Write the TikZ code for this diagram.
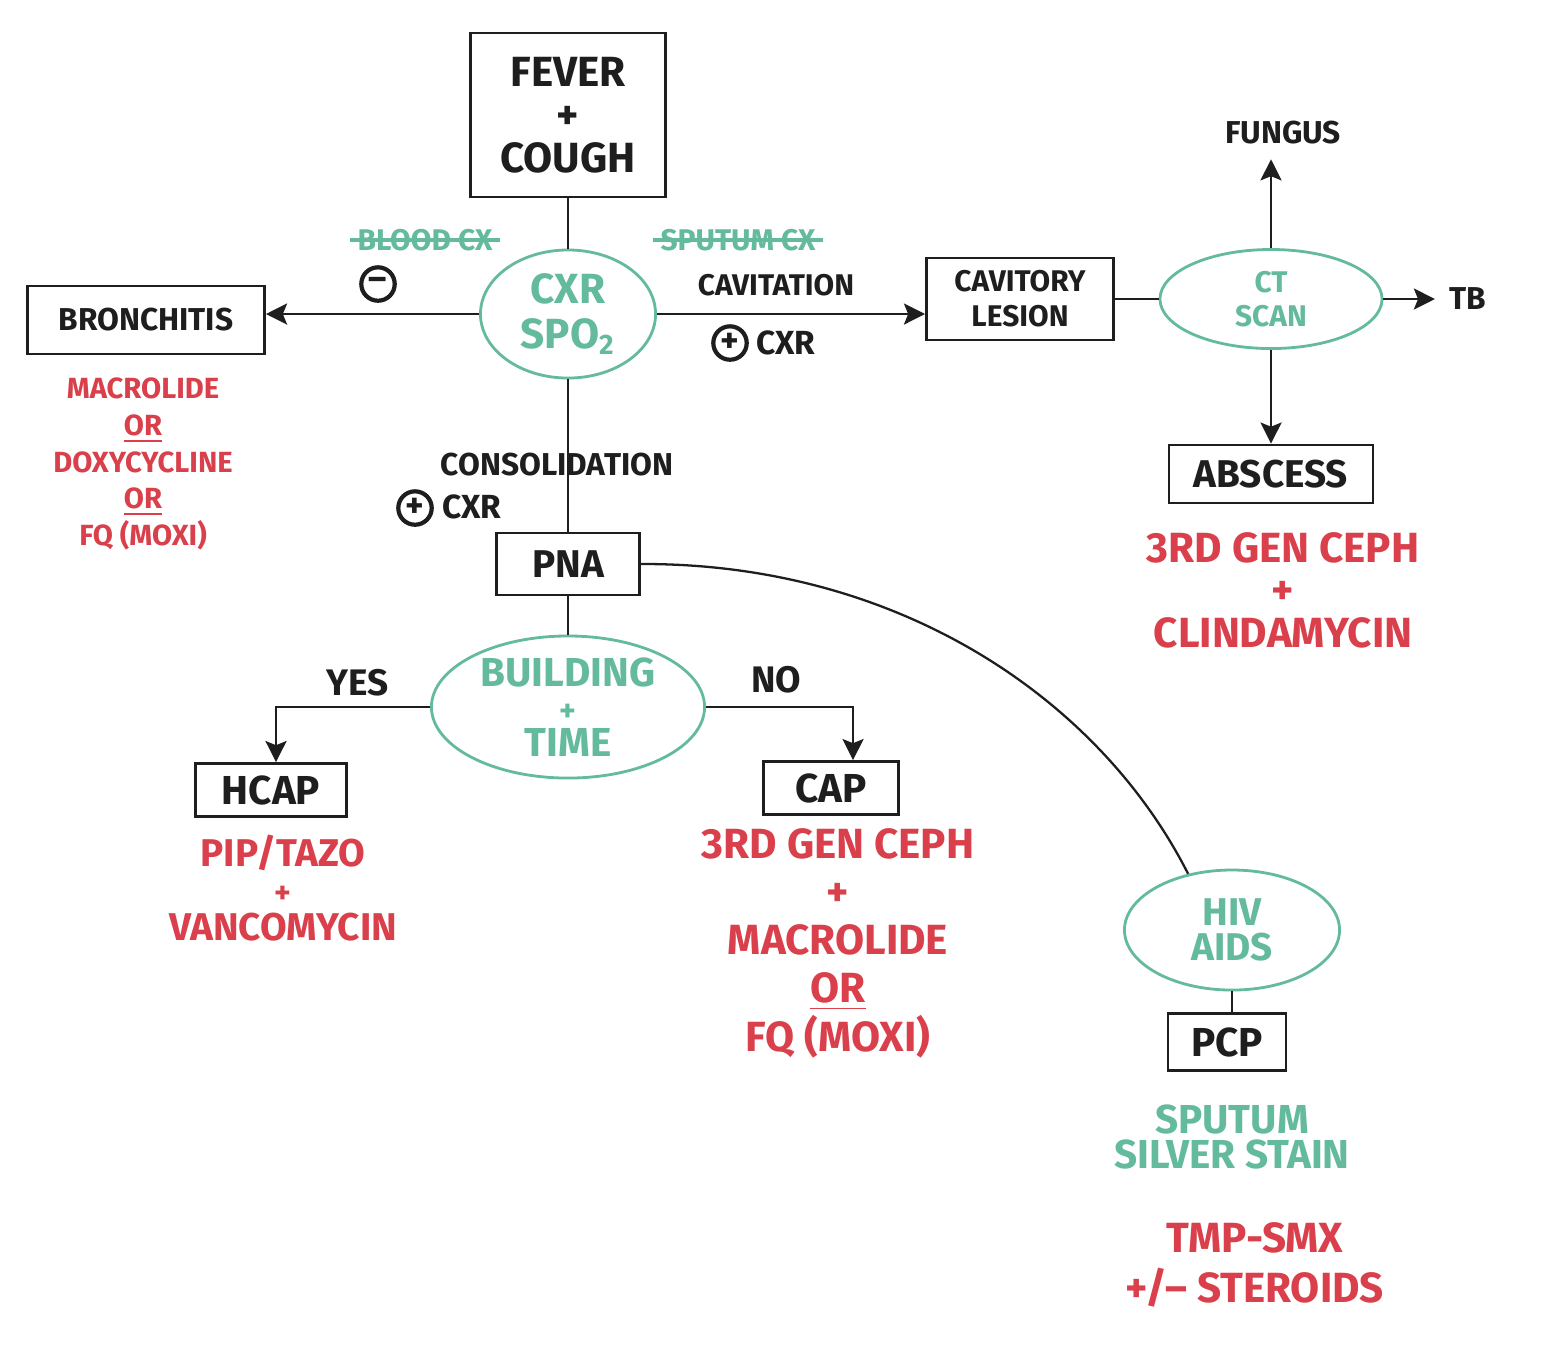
\documentclass[tikz,border=0pt]{standalone}
\usepackage{fontspec}
\setmainfont{Fira Sans}
\usetikzlibrary{arrows.meta,shapes.geometric}
\definecolor{mint}{RGB}{100,186,156}
\definecolor{rxred}{RGB}{217,64,75}
\definecolor{ink}{RGB}{30,30,30}
\newcommand{\fsz}[2]{\fontsize{#1}{#2}\selectfont\bfseries}
\begin{document}
\begin{tikzpicture}[x=0.01cm,y=-0.01cm,
  box/.style={draw=ink,line width=0.8pt,rectangle,inner sep=0pt,text=ink,align=center},
  oval/.style={draw=mint,line width=0.8pt,ellipse,inner sep=0pt,text=mint,align=center},
  note/.style={text=ink,inner sep=1pt},
  rx/.style={text=rxred,align=center,inner sep=0pt},
  link/.style={draw=ink,line width=0.65pt},
  arr/.style={link,-{Stealth[length=6pt,width=6pt,inset=1.2pt]}},
  sign/.style={circle,draw=ink,line width=1.2pt,minimum size=9.5pt,inner sep=0pt,text=ink,font=\fsz{10}{10}},
  struck/.style={text=mint,inner sep=0pt,font=\fsz{8.5}{9}}]
\useasboundingbox (0,0) rectangle (1552,1356);
% main column
\node[box,minimum width=1.95cm,minimum height=1.64cm,font=\fsz{12}{12.2}](fever)at(568,115){FEVER\\+\\COUGH};
\node[oval,minimum width=1.75cm,minimum height=1.28cm,font=\fsz{12}{12.8}](cxr)at(568,314){CXR\\SPO\textsubscript{2}};
\node[box,minimum width=1.43cm,minimum height=0.62cm,font=\fsz{11}{12}](pna)at(568,564){PNA};
\node[oval,minimum width=2.73cm,minimum height=1.42cm,font=\fsz{11.5}{10}](bldg)at(568,707){BUILDING\\{\fsz{9}{10}+}\\TIME};
% left branch
\node[box,minimum width=2.37cm,minimum height=0.68cm,font=\fsz{9}{10}](bron)at(146,320){BRONCHITIS};
\node[rx,font=\fsz{8.3}{10.4}](bronrx)at(143,464){MACROLIDE\\\underline{OR}\\DOXYCYCLINE\\\underline{OR}\\FQ (MOXI)};
\node[struck](blood)at(425,240){BLOOD CX};
\node[sign](neg)at(378,284){--};
% right branch
\node[struck](sput)at(738,240){SPUTUM CX};
\node[note,font=\fsz{8.5}{9}](cavit)at(776,285){CAVITATION};
\node[sign](pos1)at(730,343){+};
\node[note,font=\fsz{9.5}{10}](cxr1)at(786,343){CXR};
\node[box,minimum width=1.87cm,minimum height=0.82cm,font=\fsz{8.5}{10}](cav)at(1020,299){CAVITORY\\LESION};
\node[oval,minimum width=2.22cm,minimum height=0.99cm,font=\fsz{8.5}{9.5}](ct)at(1271,299){CT\\SCAN};
\node[note,font=\fsz{9}{10}](fungus)at(1283,133){FUNGUS};
\node[note,font=\fsz{9}{10}](tb)at(1468,299){TB};
\node[box,minimum width=2.04cm,minimum height=0.58cm,font=\fsz{11}{12}](absc)at(1271,474){ABSCESS};
\node[rx,font=\fsz{12}{12.1}](abscrx)at(1283,590){3RD GEN CEPH\\+\\CLINDAMYCIN};
% consolidation
\node[note,font=\fsz{9}{10}](consol)at(557,465){CONSOLIDATION};
\node[sign](pos2)at(415,508){+};
\node[note,font=\fsz{9.5}{10}](cxr2)at(472,507){CXR};
% building outcomes
\node[note,font=\fsz{10.5}{11}](yes)at(358,683){YES};
\node[note,font=\fsz{10.5}{11}](no)at(776,680){NO};
\node[box,minimum width=1.51cm,minimum height=0.53cm,font=\fsz{11.5}{12}](hcap)at(271,790){HCAP};
\node[rx,font=\fsz{11}{10.5}](hcaprx)at(283,888){PIP/TAZO\\{\fsz{9}{10.5}+}\\VANCOMYCIN};
\node[box,minimum width=1.35cm,minimum height=0.53cm,font=\fsz{11.5}{12}](cap)at(831,788){CAP};
\node[rx,font=\fsz{12}{13.7}](caprx)at(838,943){3RD GEN CEPH\\+\\MACROLIDE\\\underline{OR}\\FQ (MOXI)};
% hiv
\node[oval,minimum width=2.15cm,minimum height=1.20cm,font=\fsz{11}{10}](hiv)at(1232,930){HIV\\AIDS};
\node[box,minimum width=1.18cm,minimum height=0.57cm,font=\fsz{11.5}{12}](pcp)at(1227,1042){PCP};
\node[text=mint,align=center,inner sep=0pt,font=\fsz{11.5}{10}](stain)at(1232,1137){SPUTUM\\SILVER STAIN};
\node[rx,font=\fsz{12}{14.2}](pcprx)at(1255,1265){TMP-SMX\\+/-- STEROIDS};
% strike-throughs
\draw[mint,line width=0.9pt]([xshift=-2pt]blood.west)--([xshift=2pt]blood.east);
\draw[mint,line width=0.9pt]([xshift=-2pt]sput.west)--([xshift=2pt]sput.east);
% connectors
\draw[link](fever.south)--(cxr.north);
\draw[arr](cxr.west)--(cxr.west -| bron.east);
\draw[arr](cxr.east)--(cxr.east -| cav.west);
\draw[link](cav.east)--(ct.west);
\draw[arr,shorten >=3pt](ct.north)--(ct.north |- fungus.south);
\draw[arr,shorten >=3pt](ct.east)--(tb.west);
\draw[arr](ct.south)--(absc.north);
\draw[link](cxr.south)--(pna.north);
\draw[link](pna.south)--(bldg.north);
\draw[arr](bldg.west)-|([xshift=0.05cm]hcap.north);
\draw[arr](bldg.east)-|([xshift=0.22cm]cap.north);
\draw[link](pna.east)..controls(900,563)and(1100,700)..(hiv.128);
\draw[link](hiv.south)--(hiv.south |- pcp.north);
\end{tikzpicture}
\end{document}
